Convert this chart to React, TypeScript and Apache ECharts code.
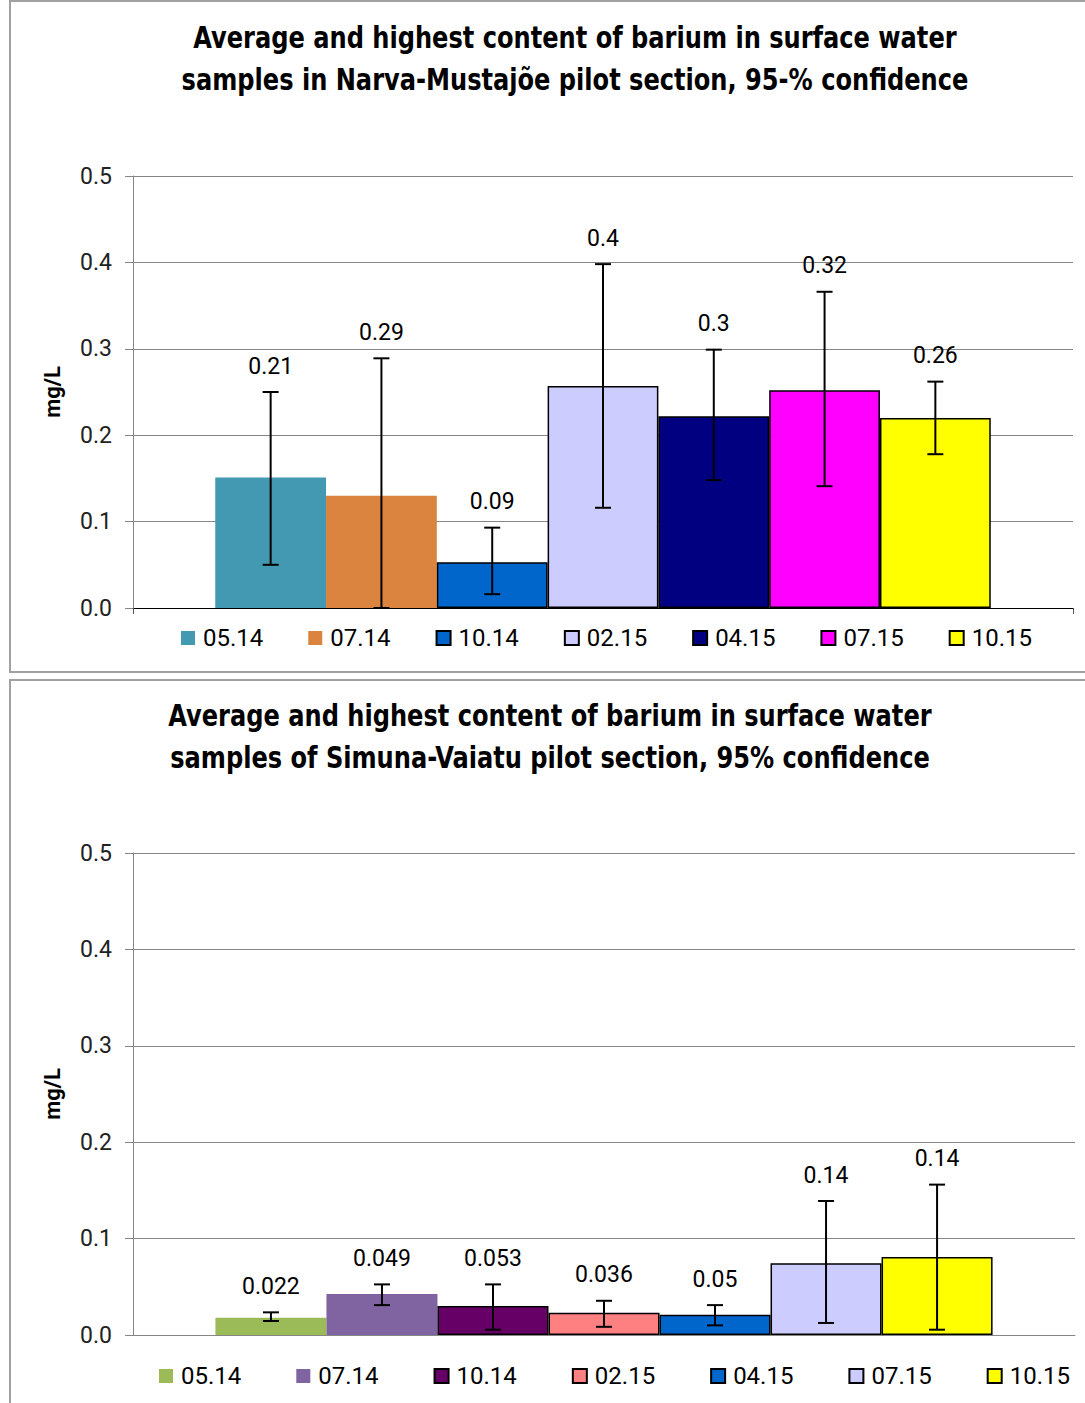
import React, { useEffect, useRef } from "react";
import * as echarts from "echarts";

// ---------- Data: Narva-Mustajõe ----------
const dates1 = ["05.14", "07.14", "10.14", "02.15", "04.15", "07.15", "10.15"];
const avg1 = [0.151, 0.13, 0.053, 0.257, 0.222, 0.252, 0.22];
const low1 = [0.05, 0.0, 0.016, 0.116, 0.148, 0.141, 0.178];
const high1 = [0.25, 0.289, 0.093, 0.398, 0.299, 0.366, 0.262];
const maxLabels1 = ["0.21", "0.29", "0.09", "0.4", "0.3", "0.32", "0.26"];
const colors1 = ["#4399B1", "#DA843F", "#0066CC", "#CCCCFF", "#000080", "#FF00FF", "#FFFF00"];
const bordered1 = [false, false, true, true, true, true, true];
const title1 = [
  "Average and highest content of barium in surface water",
  "samples in Narva-Mustajõe pilot section, 95-% confidence",
];

// ---------- Data: Simuna-Vaiatu ----------
const dates2 = ["05.14", "07.14", "10.14", "02.15", "04.15", "07.15", "10.15"];
const avg2 = [0.018, 0.0425, 0.03, 0.023, 0.021, 0.0745, 0.081];
const low2 = [0.0145, 0.031, 0.0055, 0.0085, 0.01, 0.0125, 0.0055];
const high2 = [0.0235, 0.0525, 0.0525, 0.0355, 0.031, 0.139, 0.156];
const maxLabels2 = ["0.022", "0.049", "0.053", "0.036", "0.05", "0.14", "0.14"];
const colors2 = ["#9BBB59", "#8064A2", "#660066", "#FF8080", "#0066CC", "#CCCCFF", "#FFFF00"];
const bordered2 = [false, false, true, true, true, true, true];
const title2 = [
  "Average and highest content of barium in surface water",
  "samples of Simuna-Vaiatu pilot section, 95% confidence",
];

const yMin = 0;
const yMax = 0.5;
const yInterval = 0.1;

const FONT = "Roboto, 'Noto Sans', sans-serif";
const TITLE_FONT = "'Liberation Sans Narrow', 'DejaVu Sans Condensed', sans-serif";
const CAT_GAP = 0.175;

type Cfg = {
  dates: string[];
  avg: number[];
  low: number[];
  high: number[];
  labels: string[];
  colors: string[];
  bordered: boolean[];
  title: string[];
  titleX: number;
  titleY: number;
  borderTop: number;
  borderHeight: number;
  grid: { left: number; right: number; top: number; height: number };
  legendLeft: number;
  legendTop: number;
  legendGap: number;
  xAxisColor: string;
  xTick: boolean;
};

function buildOption(cfg: Cfg): any {
  const n = cfg.dates.length;
  const bars = cfg.dates.map((d, i) => ({
    type: "bar",
    name: d,
    data: [cfg.avg[i]],
    barGap: "0%",
    barCategoryGap: CAT_GAP * 100 + "%",
    itemStyle: {
      color: cfg.colors[i],
      borderColor: cfg.bordered[i] ? "#000" : cfg.colors[i],
      borderWidth: cfg.bordered[i] ? 1.5 : 0,
    },
    emphasis: { disabled: true },
    z: 2,
  }));
  const errSeries = {
    type: "custom",
    name: "err",
    z: 10,
    silent: true,
    data: cfg.dates.map((d, i) => [0, cfg.low[i], cfg.high[i], i]),
    encode: { x: 0, y: [1, 2] },
    renderItem: (params: any, api: any) => {
      const i = api.value(3);
      const band = api.size([1, 0])[0];
      const total = band * (1 - CAT_GAP);
      const bw = total / n;
      const c = api.coord([0, 0]);
      const x = c[0] - total / 2 + (i + 0.5) * bw;
      const yLo = api.coord([0, api.value(1)])[1];
      const yHi = api.coord([0, api.value(2)])[1];
      const cap = 8;
      const st = { stroke: "#000", lineWidth: 2 };
      return {
        type: "group",
        children: [
          { type: "line", shape: { x1: x, y1: yLo, x2: x, y2: yHi }, style: st },
          { type: "line", shape: { x1: x - cap, y1: yHi, x2: x + cap, y2: yHi }, style: st },
          { type: "line", shape: { x1: x - cap, y1: yLo, x2: x + cap, y2: yLo }, style: st },
          {
            type: "text",
            style: {
              text: cfg.labels[i],
              x: x,
              y: yHi - 26,
              align: "center",
              verticalAlign: "middle",
              fontSize: 23,
              fontFamily: FONT,
              fill: "#000",
            },
          },
        ],
      };
    },
  };
  const titleTexts = cfg.title.map((t, k) => ({
    type: "text",
    silent: true,
    x: cfg.titleX,
    y: cfg.titleY + k * 42,
    scaleX: 0.893,
    style: {
      text: t,
      fill: "#000",
      font: "bold 30px " + TITLE_FONT,
      textAlign: "center",
      textVerticalAlign: "middle",
      align: "center",
      verticalAlign: "middle",
    },
  }));
  return {
    animation: false,
    backgroundColor: "#fff",
    graphic: [
      {
        type: "rect",
        silent: true,
        z: -10,
        shape: { x: 10, y: cfg.borderTop, width: 1200, height: cfg.borderHeight },
        style: { fill: "none", stroke: "#a0a0a0", lineWidth: 2 },
      },
      ...titleTexts,
    ],
    legend: {
      data: cfg.dates,
      left: cfg.legendLeft,
      top: cfg.legendTop,
      padding: 0,
      itemWidth: 14,
      itemHeight: 14,
      itemGap: cfg.legendGap,
      icon: "rect",
      selectedMode: false,
      textStyle: { fontSize: 24, fontFamily: FONT, color: "#000", padding: [0, 0, 0, 3] },
    },
    grid: { ...cfg.grid, containLabel: false },
    xAxis: {
      type: "category",
      data: [""],
      axisLine: { lineStyle: { color: cfg.xAxisColor, width: 1 } },
      axisTick: { show: cfg.xTick, length: 6, lineStyle: { color: "#555" } },
      axisLabel: { show: false },
      splitLine: { show: false },
    },
    yAxis: {
      type: "value",
      min: yMin,
      max: yMax,
      interval: yInterval,
      name: "mg/L",
      nameLocation: "middle",
      nameGap: 70,
      nameTextStyle: { fontFamily: FONT, fontWeight: "bold", fontSize: 22, color: "#000" },
      axisLine: { show: true, lineStyle: { color: "#868686" } },
      axisTick: { show: true, length: 8, lineStyle: { color: "#868686" } },
      axisLabel: {
        margin: 21,
        fontSize: 23,
        fontFamily: FONT,
        color: "#222",
        formatter: (v: number) => v.toFixed(1),
      },
      splitLine: { show: true, lineStyle: { color: "#868686", width: 1 } },
    },
    series: [...bars, errSeries],
  };
}

function Panel({ cfg, top, height }: { cfg: Cfg; top: number; height: number }) {
  const ref = useRef<HTMLDivElement>(null);
  useEffect(() => {
    if (!ref.current) return;
    const chart = echarts.init(ref.current, undefined, { renderer: "svg" });
    chart.setOption(buildOption(cfg));
    return () => chart.dispose();
  }, [cfg]);
  return <div ref={ref} style={{ position: "absolute", left: 0, top, width: 1085, height }} />;
}

const cfg1: Cfg = {
  dates: dates1,
  avg: avg1,
  low: low1,
  high: high1,
  labels: maxLabels1,
  colors: colors1,
  bordered: bordered1,
  title: title1,
  titleX: 575,
  titleY: 38,
  borderTop: 1,
  borderHeight: 671,
  grid: { left: 133, right: 12, top: 176, height: 432 },
  legendLeft: 181,
  legendTop: 626,
  legendGap: 45,
  xAxisColor: "#000",
  xTick: true,
};

const cfg2: Cfg = {
  dates: dates2,
  avg: avg2,
  low: low2,
  high: high2,
  labels: maxLabels2,
  colors: colors2,
  bordered: bordered2,
  title: title2,
  titleX: 550,
  titleY: 40,
  borderTop: 4,
  borderHeight: 2000,
  grid: { left: 133, right: 10, top: 177, height: 482 },
  legendLeft: 159,
  legendTop: 688,
  legendGap: 55,
  xAxisColor: "#868686",
  xTick: false,
};

export default function App() {
  return (
    <div
      style={{
        position: "absolute",
        left: 0,
        top: 0,
        width: 1085,
        height: 1403,
        background: "#fff",
        overflow: "hidden",
      }}
    >
      <Panel cfg={cfg1} top={0} height={676} />
      <Panel cfg={cfg2} top={676} height={727} />
    </div>
  );
}
